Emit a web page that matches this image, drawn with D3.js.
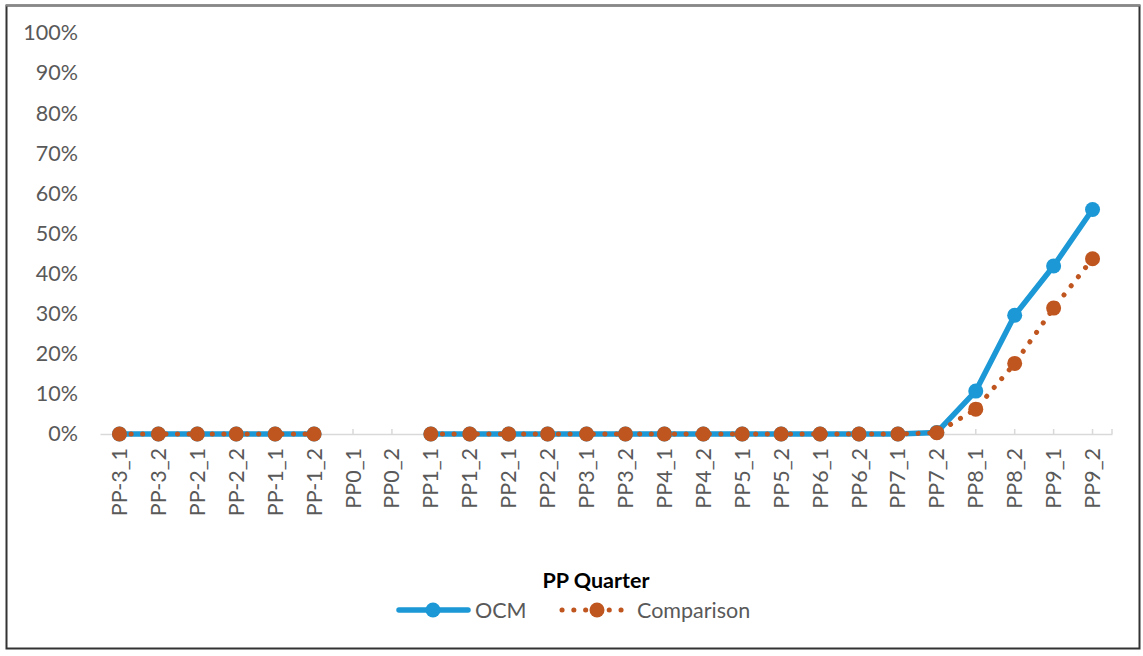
<!DOCTYPE html>
<html>
<head>
<meta charset="utf-8">
<script src="https://cdn.jsdelivr.net/npm/d3@7/dist/d3.min.js"></script>
<style>
  html, body { margin: 0; padding: 0; background: #fff; }
  svg { display: block; }
</style>
</head>
<body>
<svg id="chart" width="1143" height="656"></svg>
<script>
const categories = ["PP-3_1","PP-3_2","PP-2_1","PP-2_2","PP-1_1","PP-1_2","PP0_1","PP0_2",
  "PP1_1","PP1_2","PP2_1","PP2_2","PP3_1","PP3_2","PP4_1","PP4_2","PP5_1","PP5_2",
  "PP6_1","PP6_2","PP7_1","PP7_2","PP8_1","PP8_2","PP9_1","PP9_2"];
const ocmValues = [0,0,0,0,0,0,null,null,0,0,0,0,0,0,0,0,0,0,0,0,0,0.004,0.107,0.296,0.419,0.560];
const comparisonValues = [0,0,0,0,0,0,null,null,0,0,0,0,0,0,0,0,0,0,0,0,0,0.003,0.062,0.176,0.314,0.437];
const yTicks = [0,0.1,0.2,0.3,0.4,0.5,0.6,0.7,0.8,0.9,1.0];
const seriesNames = ["OCM","Comparison"];
const xTitle = "PP Quarter";

const blue = "#1B98D5";
const orange = "#C0561F";
const textColor = "#595959";
const font = "Lato, 'Open Sans', sans-serif";
const fs = 21.5;

const svg = d3.select("#chart");

// frame
svg.append("rect").attr("x",6.5).attr("y",5.5).attr("width",1133).attr("height",643)
  .attr("fill","#fff").attr("stroke","#333").attr("stroke-width",2);
svg.append("line").attr("x1",6).attr("x2",1140).attr("y1",5.5).attr("y2",5.5)
  .attr("stroke","#888").attr("stroke-width",2);

const x = d3.scaleBand().domain(categories).range([100, 1112]);
const y = d3.scaleLinear().domain([0,1]).range([434, 33]);
const cx = d => x(d) + x.bandwidth()/2;

// y labels
const yAxis = d3.axisLeft(y).tickValues(yTicks).tickFormat(d3.format(".0%")).tickSize(0).tickPadding(0);
const gy = svg.append("g").attr("transform","translate(78,0)").call(yAxis);
gy.select(".domain").remove();
gy.selectAll("text").attr("font-family",font).attr("font-size",fs).attr("fill",textColor);

// x axis
const xAxis = d3.axisBottom(x).tickSize(0).tickPadding(0);
const gx = svg.append("g").attr("transform","translate(0,434)").call(xAxis);
gx.select(".domain").attr("stroke","#d9d9d9").attr("stroke-width",1.5);
gx.selectAll(".tick text")
  .attr("font-family",font).attr("font-size",fs).attr("fill",textColor)
  .attr("transform","rotate(-90)")
  .attr("text-anchor","end").attr("dy","0.35em").attr("x",-14).attr("y",0);
// upward tick marks
gx.selectAll(".tick").append("line").attr("y1",0).attr("y2",-5).attr("stroke","#d9d9d9").attr("stroke-width",1.5);
gx.append("line").attr("x1",1112).attr("x2",1112).attr("y1",0).attr("y2",-5).attr("stroke","#d9d9d9").attr("stroke-width",1.5);

// lines
const line = d3.line().defined(d => d.v !== null).x(d => cx(d.c)).y(d => y(d.v));
const ocm = categories.map((c,i) => ({c, v: ocmValues[i]}));
const comp = categories.map((c,i) => ({c, v: comparisonValues[i]}));

svg.append("path").datum(ocm).attr("d",line).attr("fill","none")
  .attr("stroke",blue).attr("stroke-width",5.5).attr("stroke-linejoin","round");
svg.append("g").selectAll("circle").data(ocm.filter(d=>d.v!==null)).join("circle")
  .attr("cx",d=>cx(d.c)).attr("cy",d=>y(d.v)).attr("r",7.5).attr("fill",blue);

svg.append("path").datum(comp).attr("d",line).attr("fill","none")
  .attr("stroke",orange).attr("stroke-width",5).attr("stroke-linecap","round")
  .attr("stroke-dasharray","0.1 11.5");
svg.append("g").selectAll("circle").data(comp.filter(d=>d.v!==null)).join("circle")
  .attr("cx",d=>cx(d.c)).attr("cy",d=>y(d.v)).attr("r",7.5).attr("fill",orange);

// axis title
svg.append("text").attr("x",596).attr("y",588).attr("text-anchor","middle")
  .attr("font-family",font).attr("font-size",fs).attr("font-weight","bold").attr("fill","#000")
  .text(xTitle);

// legend
const ly = 610;
const lg = svg.append("g");
lg.append("line").attr("x1",399).attr("x2",468).attr("y1",ly).attr("y2",ly)
  .attr("stroke",blue).attr("stroke-width",5.5).attr("stroke-linecap","round");
lg.append("circle").attr("cx",433).attr("cy",ly).attr("r",7.5).attr("fill",blue);
lg.append("text").attr("x",475).attr("y",ly).attr("dy","0.35em")
  .attr("font-family",font).attr("font-size",fs).attr("fill",textColor).text(seriesNames[0]);
lg.append("line").attr("x1",562).attr("x2",624).attr("y1",ly).attr("y2",ly)
  .attr("stroke",orange).attr("stroke-width",5).attr("stroke-linecap","round")
  .attr("stroke-dasharray","0.1 11.7");
lg.append("circle").attr("cx",597).attr("cy",ly).attr("r",7.5).attr("fill",orange);
lg.append("text").attr("x",637).attr("y",ly).attr("dy","0.35em")
  .attr("font-family",font).attr("font-size",fs).attr("fill",textColor).text(seriesNames[1]);
</script>
</body>
</html>
